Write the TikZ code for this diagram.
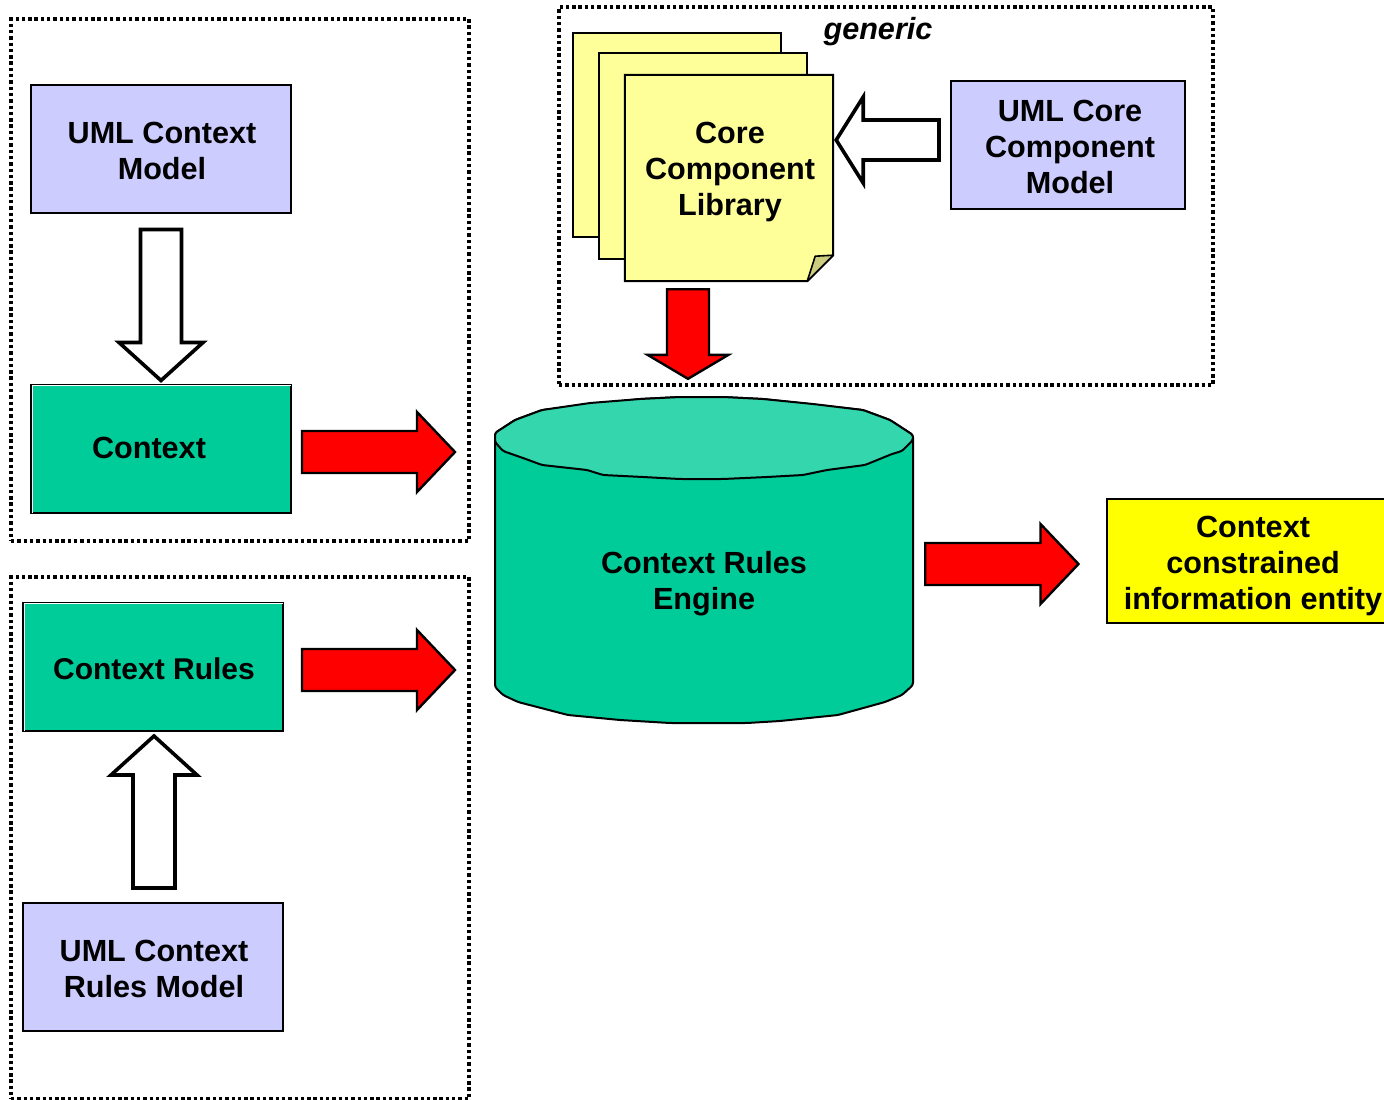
\documentclass[tikz,border=0pt]{standalone}
\usepackage{fontspec}
\setmainfont{Liberation Sans}
\usetikzlibrary{calc}
\definecolor{umlblue}{HTML}{CCCCFF}
\definecolor{ctxgreen}{HTML}{00CC99}
\definecolor{topgreen}{HTML}{33D6AD}
\definecolor{notefill}{HTML}{FFFF99}
\definecolor{foldfill}{HTML}{CDCD7F}
\definecolor{resultfill}{HTML}{FFFF00}
\definecolor{arrowred}{HTML}{FF0000}
\tikzset{
  txt/.style={font=\fontsize{30.6}{36}\selectfont\bfseries, align=center, inner sep=0pt, text=black},
  box/.style={draw=black, line width=2pt, minimum width=#1, minimum height=128pt, inner sep=0pt, anchor=center},
  box/.default=260pt,
  umlbox/.style={box=#1, fill=umlblue},
  umlbox/.default=260pt,
  ctxbox/.style={box=260pt, fill=ctxgreen},
  frameline/.style={draw=black, line width=3.4pt, dash pattern=on 3.4pt off 2.9pt},
  notebox/.style={draw=black, line width=2pt, fill=notefill, inner sep=0pt, anchor=center},
  hollow/.style={draw=black, fill=white, line width=3.6pt, miter limit=10},
  redarrow/.style={draw=black, fill=arrowred, line width=2.4pt, miter limit=10},
  innerline/.style={draw=white, line width=1pt},
  anchorbox/.style={inner sep=0pt, anchor=center},
  drum/.style={draw=black, line width=2pt, line join=round, rounded corners=2.5pt}
}
% style, start, tip, half shaft, half head, head length
\newcommand\blockarrow[6]{%
  \coordinate (ba) at #2;
  \coordinate (bt) at #3;
  \coordinate (bh) at ($(bt)!#6!(ba)$);
  \draw[#1] ($(ba)!#4!90:(bt)$) -- ($(bh)!#4!90:(bt)$) -- ($(bh)!#5!90:(bt)$) -- (bt)
    -- ($(bh)!#5!-90:(bt)$) -- ($(bh)!#4!-90:(bt)$) -- ($(ba)!#4!-90:(bt)$) -- cycle;
}
\begin{document}
\begin{tikzpicture}[x=1pt,y=-1pt]
\useasboundingbox (0,0) rectangle (1384,1100);
% frames
\node[frameline, minimum width=458pt, minimum height=522pt, inner sep=0pt] (frameA) at (240,280) {};
\node[frameline, minimum width=458pt, minimum height=522pt, inner sep=0pt] (frameB) at (240,838) {};
\node[frameline, minimum width=654pt, minimum height=378pt, inner sep=0pt] (frameC) at (886,196) {};
\node[txt, font=\fontsize{30.6}{36}\selectfont\bfseries\itshape] (generic) at (878,32) {generic};
% left boxes
\node[umlbox] (umlctx) at (161,149) {};
\node[txt] (umlctxlabel) at (162,151) {UML Context\\Model};
\node[ctxbox] (context) at (161,449) {};
\node[txt] (contextlabel) at (149,448) {Context};
\node[ctxbox] (ctxrules) at (153,667) {};
\node[txt, font=\fontsize{30}{36}\selectfont\bfseries] (ctxruleslabel) at (154,669) {Context Rules};
\node[umlbox] (umlrules) at (153,967) {};
\node[txt] (umlruleslabel) at (154,969) {UML Context\\Rules Model};
\draw[innerline] ([shift={(2pt,1.5pt)}]context.south west) |- ([shift={(-1.5pt,-1.6pt)}]context.north east);
\draw[innerline] ([shift={(2pt,1.5pt)}]ctxrules.south west) |- ([shift={(-1.5pt,-1.6pt)}]ctxrules.north east);
% core component stack
\node[notebox, minimum width=208pt, minimum height=204pt] (noteback) at (677,135) {};
\node[notebox, minimum width=208pt, minimum height=206pt] (notemid) at (703,156) {};
\node[anchorbox, minimum width=208pt, minimum height=206pt] (corenote) at (729,178) {};
\draw[draw=black, line width=2pt, fill=notefill, line join=miter]
  (corenote.north west) -- (corenote.north east) -- ([yshift=26pt]corenote.south east)
  -- ([xshift=-26pt]corenote.south east) -- (corenote.south west) -- cycle;
\draw[draw=black, line width=1.6pt, fill=foldfill, line join=round]
  ([xshift=-26pt]corenote.south east) -- ([xshift=-18pt,yshift=25pt]corenote.south east)
  -- ([yshift=26pt]corenote.south east) -- cycle;
\node[txt] (corelabel) at (730,172) {Core\\Component\\Library};
\node[umlbox=234pt] (umlcore) at (1068,145) {};
\node[txt] (umlcorelabel) at (1070,147) {UML Core\\Component\\Model};
% engine
\node[anchorbox, minimum width=418pt, minimum height=326pt] (engine) at (704,560) {};
\draw[drum, fill=ctxgreen]
  (495,433) -- (495,687) -- (503,695) -- (518,702) -- (568,715) -- (620,720) -- (670,723)
  -- (747,723) -- (780,721) -- (838,715) -- (885,702) -- (902,695) -- (913,685) -- (913,435)
  -- (890,420) -- (863,410) -- (763,399) -- (723,397) -- (680,397) -- (640,399) -- (542,410) -- (515,420) -- cycle;
\draw[drum, fill=topgreen]
  (495,433) -- (515,420) -- (542,410) -- (590,403) -- (640,399) -- (680,397) -- (723,397)
  -- (763,399) -- (813,404) -- (863,410) -- (890,420) -- (913,435) -- (913,440) -- (902,451)
  -- (892,454) -- (865,465) -- (827,470) -- (803,475) -- (767,477) -- (723,479) -- (680,479)
  -- (643,477) -- (603,475) -- (587,470) -- (542,465) -- (523,458) -- (503,451) -- (495,442) -- cycle;
\node[txt] (enginelabel) at (704,584) {Context Rules\\Engine};
% result
\node[box=292pt, minimum height=124pt, fill=resultfill] (result) at (1253,561) {};
\node[txt] (resultlabel) at (1253,566) {Context\\constrained\\information entity};
% arrows
\blockarrow{hollow}{([yshift=-15.5pt]umlctx.south)}{([yshift=3.5pt]context.north)}{20.5pt}{42pt}{38pt}
\blockarrow{hollow}{([xshift=1pt,yshift=14pt]umlrules.north)}{([xshift=1pt,yshift=-4pt]ctxrules.south)}{21pt}{43pt}{39pt}
\blockarrow{hollow}{([xshift=-11pt,yshift=5pt]umlcore.west)}{([xshift=3pt,yshift=38pt]corenote.east)}{20pt}{43pt}{27pt}
\coordinate (ctxtip) at (455,452);
\coordinate (rulestip) at (455,670);
\blockarrow{redarrow}{([xshift=10pt,yshift=-3pt]context.east)}{(ctxtip)}{21pt}{40pt}{38pt}
\blockarrow{redarrow}{([xshift=18pt,yshift=-3pt]ctxrules.east)}{(rulestip)}{21pt}{40pt}{38pt}
\blockarrow{redarrow}{([xshift=12pt,yshift=-4pt]engine.east)}{([xshift=-27.5pt,yshift=-3pt]result.west)}{21pt}{40pt}{38pt}
\blockarrow{redarrow}{([xshift=-41pt,yshift=-8pt]corenote.south)}{([xshift=-16pt,yshift=18pt]engine.north)}{21pt}{40.5pt}{24pt}
\end{tikzpicture}
\end{document}
